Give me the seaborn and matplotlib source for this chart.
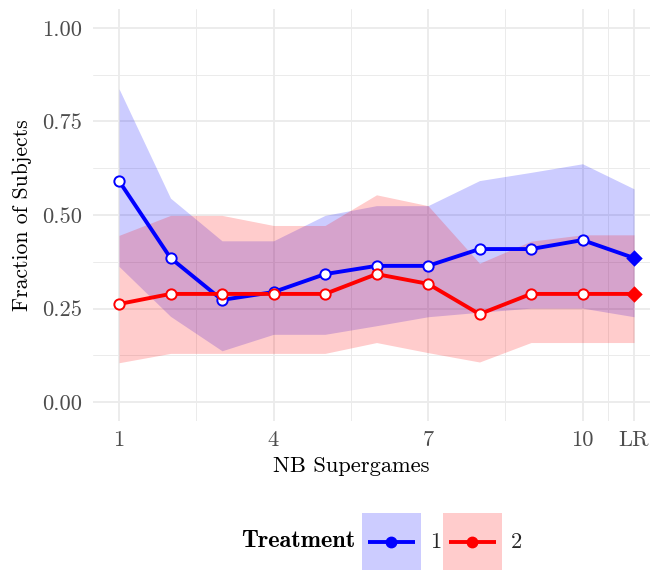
import numpy as np
import pandas as pd
import matplotlib
matplotlib.use("Agg")
import matplotlib.pyplot as plt
import seaborn as sns
from matplotlib.patches import Patch, Rectangle
from matplotlib.lines import Line2D
from matplotlib.font_manager import FontProperties

# ---- data ----
x_labels = ["1", "2", "3", "4", "5", "6", "7", "8", "9", "10", "LR"]
tick_labels = ["1", "4", "7", "10", "LR"]
treatments = ["1", "2"]
mean_t1 = [0.591, 0.385, 0.273, 0.294, 0.342, 0.364, 0.364, 0.409, 0.409, 0.433, 0.385]
mean_t2 = [0.262, 0.289, 0.289, 0.289, 0.289, 0.342, 0.316, 0.235, 0.289, 0.289, 0.289]
lo_t1 = [0.3625, 0.229, 0.137, 0.181, 0.181, 0.204, 0.228, 0.240, 0.251, 0.251, 0.228]
hi_t1 = [0.8375, 0.545, 0.431, 0.431, 0.499, 0.525, 0.525, 0.592, 0.614, 0.637, 0.570]
lo_t2 = [0.105, 0.130, 0.130, 0.130, 0.130, 0.159, 0.132, 0.107, 0.159, 0.159, 0.159]
hi_t2 = [0.4455, 0.499, 0.499, 0.472, 0.472, 0.554, 0.525, 0.371, 0.430, 0.447, 0.447]

colors = {"1": "#0000FF", "2": "#FF0000"}
fills = {"1": "#CCCCFF", "2": "#FFCCCC"}

pos = np.arange(1, len(x_labels) + 1)
df = pd.DataFrame({
    "pos": np.concatenate([pos, pos]),
    "label": x_labels * 2,
    "Treatment": ["1"] * len(pos) + ["2"] * len(pos),
    "mean": mean_t1 + mean_t2,
    "lo": lo_t1 + lo_t2,
    "hi": hi_t1 + hi_t2,
})
df["is_lr"] = df["label"] == "LR"

sns.set_theme(style="whitegrid")
plt.rcParams["font.family"] = ["cmr10", "DejaVu Serif"]
plt.rcParams["axes.unicode_minus"] = False

FS = 16.2

fig = plt.figure(figsize=(6.5, 5.7), dpi=100)
ax = fig.add_axes([0.1435, 0.2619, 0.8715, 0.7218])
ax.set_facecolor("white")

# bands
for t in treatments:
    d = df[df["Treatment"] == t]
    ax.fill_between(d["pos"], d["lo"], d["hi"], color=colors[t], alpha=0.2,
                    linewidth=0, zorder=1)

# lines + markers
for t in treatments:
    d = df[df["Treatment"] == t]
    sns.lineplot(data=d, x="pos", y="mean", color=colors[t], linewidth=2.8,
                 ax=ax, zorder=3, legend=False)
    sns.scatterplot(data=d[~d["is_lr"]], x="pos", y="mean", marker="o", s=55,
                    facecolor="white", edgecolor=colors[t], linewidth=1.4,
                    ax=ax, zorder=4, legend=False)
    sns.scatterplot(data=d[d["is_lr"]], x="pos", y="mean", marker="D", s=70,
                    color=colors[t], edgecolor=colors[t], linewidth=0,
                    ax=ax, zorder=4, legend=False)

ax.set_xlim(0.5, 11.5)
ax.set_ylim(-0.05, 1.05)
tick_pos = [x_labels.index(l) + 1 for l in tick_labels]
ax.set_xticks(tick_pos)
ax.set_xticklabels(tick_labels)
ax.set_xticks([2.5, 5.5, 8.5, 10.5], minor=True)
ax.set_yticks([0, 0.25, 0.5, 0.75, 1.0])
ax.set_yticklabels(["0.00", "0.25", "0.50", "0.75", "1.00"])
ax.set_yticks([0.125, 0.375, 0.625, 0.875], minor=True)

ax.grid(which="major", color="#EBEBEB", linewidth=1.3)
ax.grid(which="minor", color="#EBEBEB", linewidth=0.7)
ax.set_axisbelow(True)
for s in ax.spines.values():
    s.set_visible(False)
ax.tick_params(which="both", length=0, labelsize=FS, labelcolor="#4D4D4D")
ax.tick_params(axis="x", pad=7)
ax.tick_params(axis="y", pad=8)

ax.set_xlabel("")
ax.set_ylabel("Fraction of Subjects", fontsize=15.6, color="black", labelpad=7)
fig.text(351 / 650, 1 - 466 / 570, "NB Supergames", fontsize=FS,
         ha="center", va="center", color="black")


# legend: key = filled rectangle + inset line with a point
class KeyHandler:
    def __init__(self, line_color, fill_color):
        self.lc = line_color
        self.fc = fill_color

    def legend_artist(self, legend, orig_handle, fontsize, handlebox):
        x0, y0 = -handlebox.xdescent, -handlebox.ydescent
        w, h = handlebox.width, handlebox.height
        rect = Rectangle((x0, y0), w, h, facecolor=self.fc, edgecolor="none")
        ln = Line2D([x0 + 0.1 * w, x0 + 0.9 * w], [y0 + h / 2] * 2,
                    color=self.lc, linewidth=2.8, solid_capstyle="butt")
        mk = Line2D([x0 + w / 2], [y0 + h / 2], marker="o", markersize=7.5,
                    color=self.lc, linestyle="none")
        for a in (rect, ln, mk):
            handlebox.add_artist(a)
        return rect


handles = [Patch(facecolor=fills[t]) for t in treatments]
hmap = {h: KeyHandler(colors[t], fills[t]) for h, t in zip(handles, treatments)}
leg = fig.legend(handles, treatments, loc="center", ncol=2,
                 bbox_to_anchor=(442 / 650, 1 - 541.5 / 570),
                 handler_map=hmap,
                 frameon=False, fontsize=FS, handlelength=2.6,
                 handleheight=3.55, handletextpad=0.4, columnspacing=0.1,
                 borderpad=0, borderaxespad=0)
fig.text(355 / 650, 1 - 541 / 570, "Treatment",
         fontproperties=FontProperties(family="cmb10", size=17.5),
         ha="right", va="center", color="black")

fig.savefig("out.png", dpi=100)
